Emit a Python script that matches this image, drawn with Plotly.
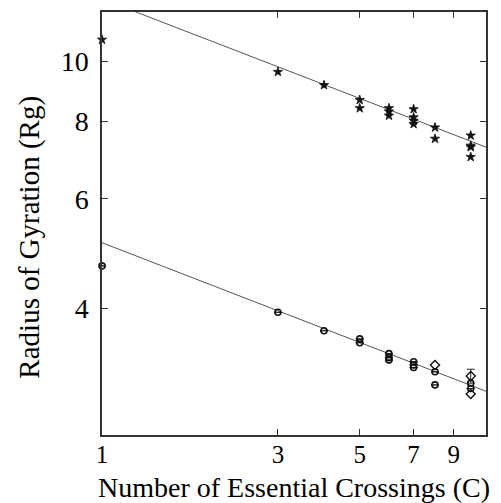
import plotly.graph_objects as go

# ---- data ----
upper_x = [1, 3, 4, 5, 5, 6, 6, 6, 7, 7, 7, 7, 8, 8, 10, 10, 10, 10]
upper_y = [10.83, 9.61, 9.15, 8.66, 8.40, 8.40, 8.30, 8.17, 8.37, 8.12, 8.02, 7.92,
           7.82, 7.50, 7.59, 7.31, 7.27, 7.01]

lower_x = [1, 3, 4, 5, 5, 6, 6, 6, 7, 7, 7, 8, 8, 10, 10]
lower_y = [4.68, 3.94, 3.68, 3.57, 3.52, 3.38, 3.33, 3.30, 3.28, 3.24, 3.21,
           3.16, 3.01, 3.03, 2.97]
lower_err_plus = [0, 0, 0, 0, 0, 0, 0, 0, 0, 0, 0, 0, 0, 0.16, 0]

diamond_x = [8, 10, 10]
diamond_y = [3.24, 3.11, 2.91]

fit_x = [1, 11]
fit_upper = [12.6, 7.27]
fit_lower = [5.10, 2.94]

x_ticks = [1, 3, 5, 7, 9]
y_ticks = [4, 6, 8, 10]

FONT = "Liberation Serif"
LINE_C = "#555555"

fig = go.Figure()
fig.add_trace(go.Scatter(x=fit_x, y=fit_upper, mode="lines",
                         line=dict(color=LINE_C, width=1), showlegend=False))
fig.add_trace(go.Scatter(x=fit_x, y=fit_lower, mode="lines",
                         line=dict(color=LINE_C, width=1), showlegend=False))
fig.add_trace(go.Scatter(x=upper_x, y=upper_y, mode="markers",
                         marker=dict(symbol="star", size=7, color="#111111",
                                     line=dict(color="#111111", width=0.8)),
                         cliponaxis=False, showlegend=False))
fig.add_trace(go.Scatter(x=lower_x, y=lower_y, mode="markers",
                         marker=dict(symbol="circle-open", size=6, color="#111111",
                                     line=dict(color="#111111", width=1.6)),
                         error_y=dict(type="data", array=lower_err_plus,
                                      arrayminus=[0] * len(lower_x), symmetric=False,
                                      color="#222222", thickness=1, width=4),
                         cliponaxis=False, showlegend=False))
fig.add_trace(go.Scatter(x=diamond_x, y=diamond_y, mode="markers",
                         marker=dict(symbol="diamond-open", size=7, color="#111111",
                                     line=dict(color="#111111", width=1.4)),
                         cliponaxis=False, showlegend=False))

axis_common = dict(showline=True, linecolor="#333333", linewidth=1.5, mirror="ticks",
                   ticks="inside", ticklen=6, tickwidth=1, tickcolor="#333333",
                   showgrid=False, zeroline=False)

fig.update_xaxes(type="log", range=[0, 1.0414], tickmode="array", tickvals=x_ticks,
                 ticktext=[str(v) for v in x_ticks], ticklabelstandoff=-4,
                 tickfont=dict(family=FONT, size=25, color="black"), **axis_common)
fig.update_yaxes(type="log", range=[0.3979, 1.0792], tickmode="array", tickvals=y_ticks,
                 ticktext=[str(v) for v in y_ticks], ticklabelstandoff=6,
                 tickfont=dict(family=FONT, size=28, color="black"), **axis_common)

fig.add_annotation(text="Number of Essential Crossings (C)", xref="paper", yref="paper",
                   x=0.5, y=0, xanchor="center", yanchor="top", yshift=-35,
                   showarrow=False, font=dict(family=FONT, size=28, color="black"))
fig.add_annotation(text="Radius of Gyration (Rg)", xref="paper", yref="paper",
                   x=0, y=0.4666, xanchor="center", yanchor="middle", xshift=-72,
                   textangle=-90, showarrow=False,
                   font=dict(family=FONT, size=29, color="black"))

fig.update_layout(width=501, height=503, paper_bgcolor="white", plot_bgcolor="white",
                  margin=dict(l=102, r=15, t=10, b=68), showlegend=False)

fig.write_html("out.html")
